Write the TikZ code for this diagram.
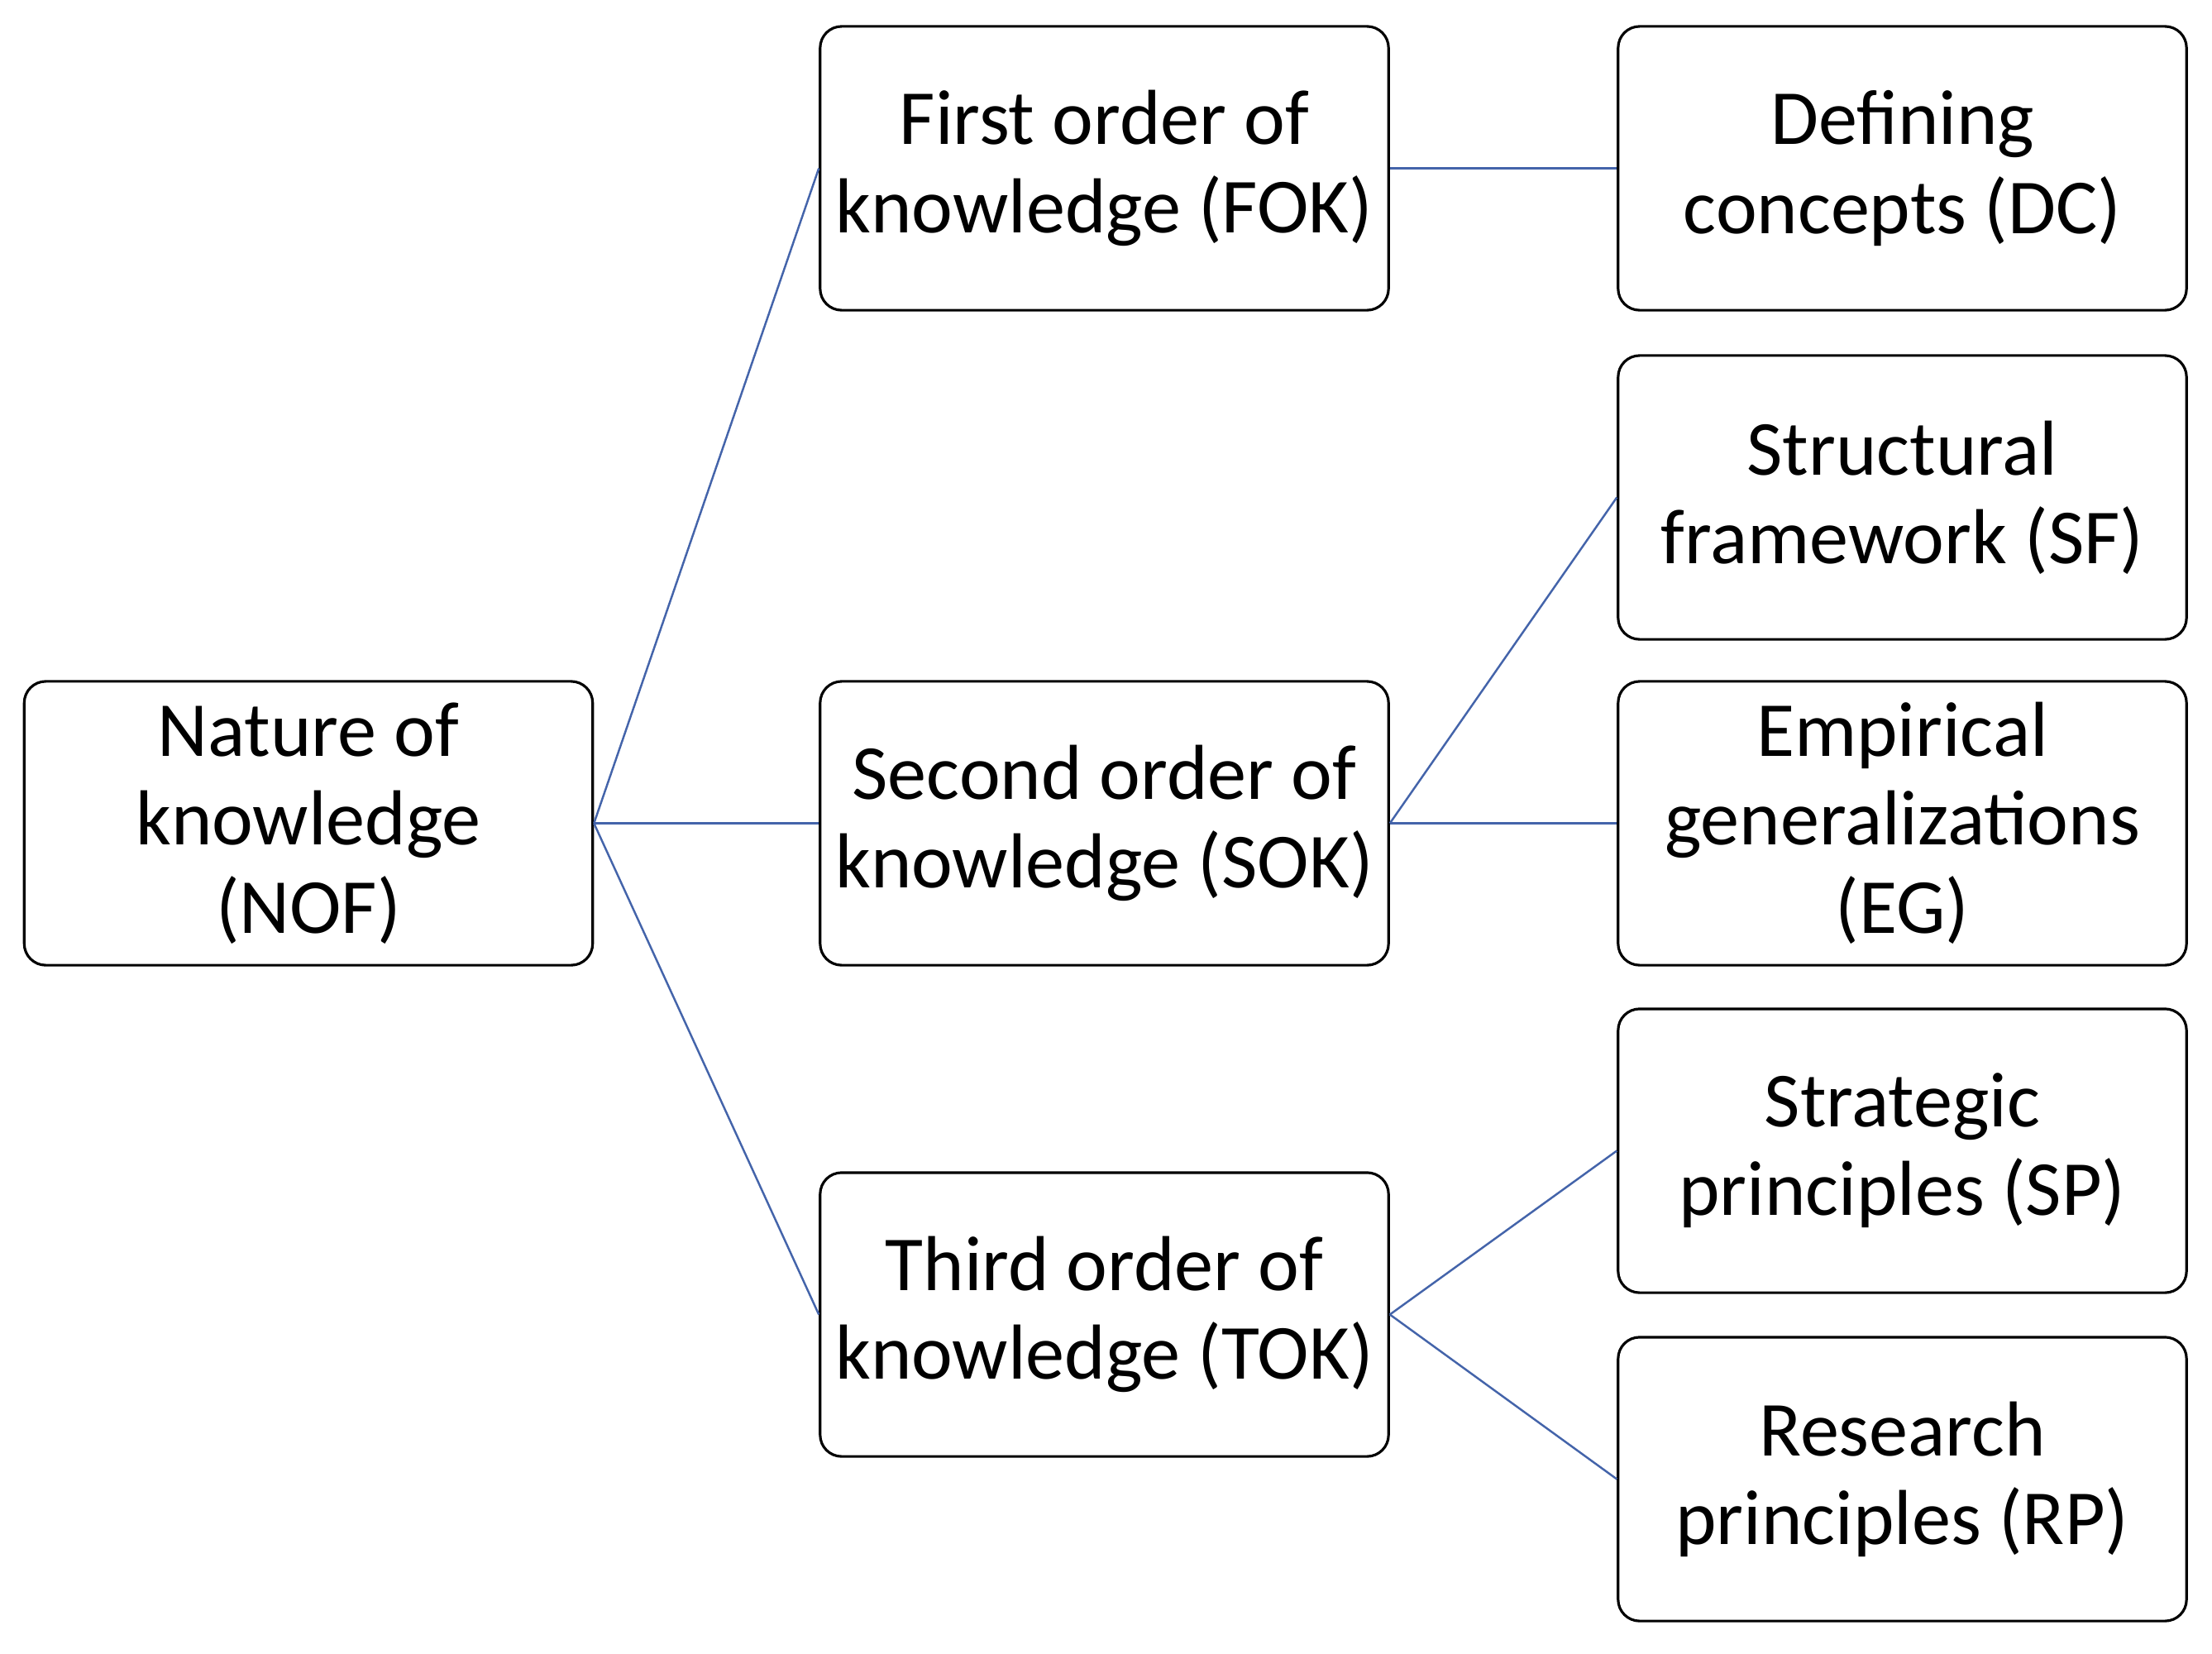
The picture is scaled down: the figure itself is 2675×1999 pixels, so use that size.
\documentclass[tikz,border=0pt]{standalone}
\usepackage{fontspec}
\setmainfont{Carlito}
\begin{document}
\begin{tikzpicture}[x=0.01cm,y=-0.01cm,
  box/.style={draw=black,line width=0.9pt,rounded corners=0.26cm,fill=white,
    minimum width=6.87cm,minimum height=3.43cm,inner sep=0pt,align=center,
    font=\fontsize{26.8}{30.5}\selectfont},
  link/.style={line width=0.7pt,draw={rgb,255:red,68;green,100;blue,170}}]
\useasboundingbox[fill=white] (0,0) rectangle (2675,1999);
\node[box] (nof) at (373,995.5) {Nature of\\knowledge\\(NOF)};
\node[box] (fok) at (1335.5,203.5) {First order of\\knowledge (FOK)};
\node[box] (sok) at (1335.5,995.5) {Second order of\\knowledge (SOK)};
\node[box] (tok) at (1335.5,1589.5) {Third order of\\knowledge (TOK)};
\node[box] (dc) at (2300.5,203.5) {Defining\\concepts (DC)};
\node[box] (sf) at (2300.5,601.5) {Structural\\framework (SF)};
\node[box] (eg) at (2300.5,995.5) {Empirical\\generalizations\\(EG)};
\node[box] (sp) at (2300.5,1391.5) {Strategic\\principles (SP)};
\node[box] (rp) at (2300.5,1788.5) {Research\\principles (RP)};
\draw[link] (nof.east) -- (fok.west);
\draw[link] (nof.east) -- (sok.west);
\draw[link] (nof.east) -- (tok.west);
\draw[link] (fok.east) -- (dc.west);
\draw[link] (sok.east) -- (sf.west);
\draw[link] (sok.east) -- (eg.west);
\draw[link] (tok.east) -- (sp.west);
\draw[link] (tok.east) -- (rp.west);
\end{tikzpicture}
\end{document}
